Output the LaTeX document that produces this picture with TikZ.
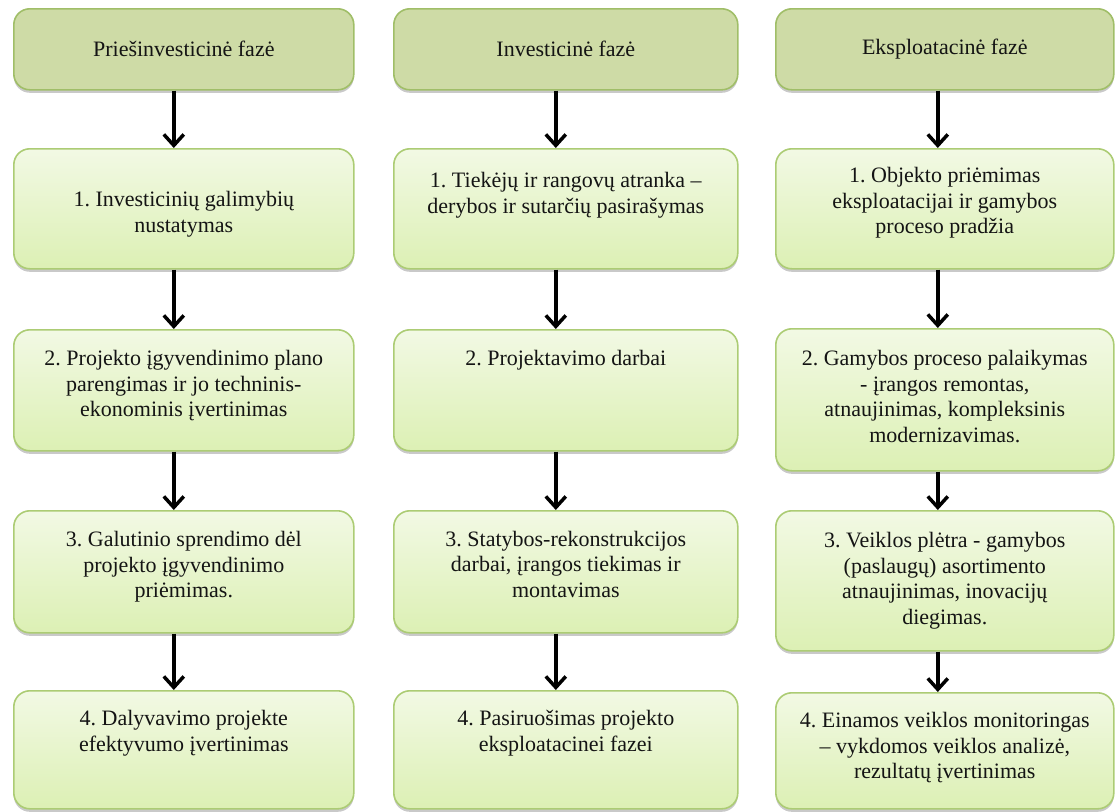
\documentclass[tikz,border=0pt]{standalone}
\usepackage{fontspec}
\setmainfont{Liberation Serif}
\frenchspacing
\usetikzlibrary{arrows.meta,shadows}
\definecolor{hfill}{RGB}{206,219,166}
\definecolor{hdraw}{RGB}{160,190,104}
\definecolor{btop}{RGB}{242,249,228}
\definecolor{bbot}{RGB}{220,240,180}
\definecolor{bdraw}{RGB}{172,204,116}
\definecolor{tcol}{RGB}{20,20,20}
\tikzset{
  shad/.style={drop shadow={shadow xshift=0pt,shadow yshift=-3pt,opacity=0.3,fill=black!70}},
  hbox/.style={draw=hdraw,line width=1.6pt,fill=hfill,rounded corners=16pt,shad,
    inner sep=0pt,anchor=north west,text=tcol,font=\fontsize{22}{25.5}\selectfont\frenchspacing},
  bbox/.style={draw=bdraw,line width=1.6pt,top color=btop,bottom color=bbot,rounded corners=16pt,shad,
    inner sep=0pt,anchor=north west},
  txt/.style={inner sep=0pt,anchor=north,align=center,text=tcol,font=\fontsize{22}{25.5}\selectfont\frenchspacing},
  arr/.style={line width=3.5pt,-{Straight Barb[length=11pt,width=20pt]}},
}
\newcommand{\fl}{\rule{0pt}{18pt}}
\begin{document}
\begin{tikzpicture}[x=1pt,y=-1pt]
\useasboundingbox (0,0) rectangle (1115,811);
% headers
\node[hbox,minimum width=340pt,minimum height=81pt] (h1) at (13,8) {Priešinvesticinė fazė};
\node[hbox,minimum width=344pt,minimum height=81pt] (h2) at (393,8) {Investicinė fazė};
\node[hbox,minimum width=338pt,minimum height=81pt] (h3) at (775,8) {Eksploatacinė fazė};
% column 1
\node[bbox,minimum width=340pt,minimum height=120pt] (a1) at (13,148) {};
\node[bbox,minimum width=340pt,minimum height=121pt] (a2) at (13,329) {};
\node[bbox,minimum width=340pt,minimum height=122pt] (a3) at (13,510) {};
\node[bbox,minimum width=340pt,minimum height=118pt] (a4) at (13,690) {};
% column 2
\node[bbox,minimum width=344pt,minimum height=120pt] (b1) at (393,148) {};
\node[bbox,minimum width=344pt,minimum height=121pt] (b2) at (393,329) {};
\node[bbox,minimum width=344pt,minimum height=122pt] (b3) at (393,510) {};
\node[bbox,minimum width=344pt,minimum height=118pt] (b4) at (393,690) {};
% column 3
\node[bbox,minimum width=338pt,minimum height=120pt] (c1) at (775,148) {};
\node[bbox,minimum width=338pt,minimum height=142pt] (c2) at (775,328) {};
\node[bbox,minimum width=338pt,minimum height=140pt] (c3) at (775,510) {};
\node[bbox,minimum width=338pt,minimum height=116pt] (c4) at (775,692) {};
% texts column 1
\node[txt] (ta1) at ([yshift=-40.5pt]a1.north) {\fl 1. Investicinių galimybių\\nustatymas};
\node[txt] (ta2) at ([yshift=-18.5pt]a2.north) {\fl 2. Projekto įgyvendinimo plano\\parengimas ir jo techninis-\\ekonominis įvertinimas};
\node[txt] (ta3) at ([yshift=-18.5pt]a3.north) {\fl 3. Galutinio sprendimo dėl\\projekto įgyvendinimo\\priėmimas.};
\node[txt] (ta4) at ([yshift=-17.5pt]a4.north) {\fl 4. Dalyvavimo projekte\\efektyvumo įvertinimas};
% texts column 2
\node[txt] (tb1) at ([yshift=-21.5pt]b1.north) {\fl 1. Tiekėjų ir rangovų atranka –\\derybos ir sutarčių pasirašymas};
\node[txt] (tb2) at ([yshift=-18.5pt]b2.north) {\fl 2. Projektavimo darbai};
\node[txt] (tb3) at ([yshift=-18pt]b3.north) {\fl 3. Statybos-rekonstrukcijos\\darbai, įrangos tiekimas ir\\montavimas};
\node[txt] (tb4) at ([yshift=-17.5pt]b4.north) {\fl 4. Pasiruošimas projekto\\eksploatacinei fazei};
% texts column 3
\node[txt] (tc1) at ([yshift=-16.5pt]c1.north) {\fl 1. Objekto priėmimas\\eksploatacijai ir gamybos\\proceso pradžia};
\node[txt] (tc2) at ([yshift=-19.5pt]c2.north) {\fl 2. Gamybos proceso palaikymas\\- įrangos remontas,\\atnaujinimas, kompleksinis\\modernizavimas.};
\node[txt] (tc3) at ([yshift=-19.5pt]c3.north) {\fl 3. Veiklos plėtra - gamybos\\(paslaugų) asortimento\\atnaujinimas, inovacijų\\diegimas.};
\node[txt] (tc4) at ([yshift=-17.5pt]c4.north) {\fl 4. Einamos veiklos monitoringas\\– vykdomos veiklos analizė,\\rezultatų įvertinimas};
% arrows
\foreach \s/\t in {h1/a1,a1/a2,a2/a3,a3/a4}
  \draw[arr] ([xshift=-10pt]\s.south) -- ([xshift=-10pt]\t.north);
\foreach \s/\t in {h2/b1,b1/b2,b2/b3,b3/b4}
  \draw[arr] ([xshift=-10pt]\s.south) -- ([xshift=-10pt]\t.north);
\foreach \s/\t in {h3/c1,c1/c2,c2/c3,c3/c4}
  \draw[arr] ([xshift=-7pt]\s.south) -- ([xshift=-7pt]\t.north);
\end{tikzpicture}
\end{document}
